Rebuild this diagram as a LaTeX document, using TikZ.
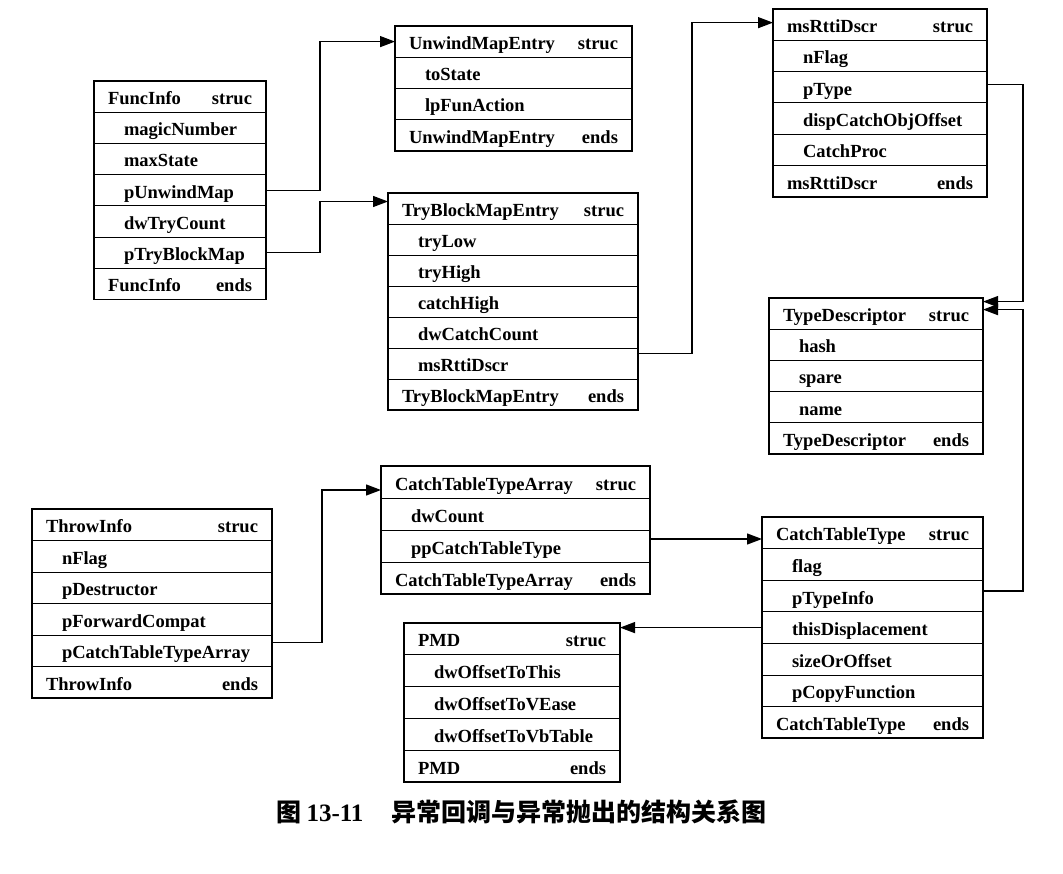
\documentclass[tikz,border=0pt]{standalone}
\usepackage{fontspec}
\setmainfont{Liberation Serif}
\newfontfamily\cjk{Noto Sans CJK SC}
\usetikzlibrary{positioning, arrows.meta}
\hyphenpenalty=10000
\newcommand{\rowstrut}{\rule[-5pt]{0pt}{26pt}}

% one struc table: id, top-left, width, row height, name, fields
\newcommand{\structbox}[6]{%
  \pgfmathsetlengthmacro{\rowtw}{#3-28pt}
  \node[srow, minimum width=#3, minimum height=#4, text width=\rowtw,
        anchor=north west] (#1-0) at (#2) {#5\hfill struc};
  \foreach \fld [count=\k] in {#6} {
    \pgfmathtruncatemacro{\prev}{\k-1}
    \node[srow, fieldrow, minimum width=#3, minimum height=#4, text width=\rowtw,
          below=0pt of #1-\prev] (#1-\k) {\fld};
    \xdef\lastrow{\k}
  }
  \node[srow, minimum width=#3, minimum height=#4, text width=\rowtw,
        below=0pt of #1-\lastrow] (#1-end) {#5\hfill ends};
  \draw[boxframe] (#1-0.north west) rectangle (#1-end.south east);
}

\begin{document}
\begin{tikzpicture}[x=1pt, y=-1pt,
    srow/.style={rectangle, draw, line width=0.9pt, outer sep=0pt, inner xsep=14pt,
                 inner ysep=1pt, align=left, execute at begin node={\rowstrut},
                 font=\fontsize{18.5}{20}\selectfont\bfseries},
    fieldrow/.style={execute at begin node={\rowstrut\hspace*{16pt}}},
    boxframe/.style={line width=1.6pt},
    link/.style={-{Triangle[length=15pt, width=11pt]}, line width=1.3pt},
    captionlbl/.style={font=\fontsize{25}{27}\selectfont, anchor=west},
  ]
    \useasboundingbox (0,0) rectangle (1063,874);

    % --- exception callback side ---
    \structbox{fi}{94,81}{172pt}{31.2pt}{FuncInfo}
      {magicNumber, maxState, pUnwindMap, dwTryCount, pTryBlockMap}
    \structbox{ume}{395,26}{237pt}{31.2pt}{UnwindMapEntry}
      {toState, lpFunAction}
    \structbox{tbme}{388,193}{250pt}{31pt}{TryBlockMapEntry}
      {tryLow, tryHigh, catchHigh, dwCatchCount, msRttiDscr}
    \structbox{msr}{773,9}{214pt}{31.3pt}{msRttiDscr}
      {nFlag, pType, dispCatchObjOffset, CatchProc}
    \structbox{td}{769,298}{214pt}{31.2pt}{TypeDescriptor}
      {hash, spare, name}

    % --- exception throw side ---
    \structbox{ti}{32,509}{240pt}{31.5pt}{ThrowInfo}
      {nFlag, pDestructor, pForwardCompat, pCatchTableTypeArray}
    \structbox{ctta}{381,466}{269pt}{32pt}{CatchTableTypeArray}
      {dwCount, ppCatchTableType}
    \structbox{ctt}{762,517}{221pt}{31.6pt}{CatchTableType}
      {flag, pTypeInfo, thisDisplacement, sizeOrOffset, pCopyFunction}
    \structbox{pmd}{404,623}{216pt}{31.8pt}{PMD}
      {dwOffsetToThis, dwOffsetToVEase, dwOffsetToVbTable}

    % --- pointers ---
    \draw[link] (fi-3.east) -- ++(54,0) |- (ume-0.west);
    \draw[link] (fi-5.east) -- ++(54,0) |- ([yshift=7pt]tbme-0.west);
    \draw[link] ([yshift=10pt]tbme-5.east) -- ++(54,0) |- ([yshift=2pt]msr-0.west);
    \draw[link] ([yshift=3pt]msr-2.east) -- ++(36,0) |- ([yshift=12pt]td-0.east);
    \draw[link] ([yshift=5pt]ctt-2.east) -- ++(40,0) |- ([yshift=4pt]td-0.east);
    \draw[link] ([yshift=8pt]ti-4.east) -- ++(50,0) |- ([yshift=-8pt]ctta-0.west);
    \coordinate (cttaout) at ([yshift=7pt]ctta-2.east);
    \draw[link] (cttaout) -- (cttaout -| ctt-0.west);
    \draw[link] (ctt-3.west) -- (ctt-3.west -| pmd-0.east);

    % --- caption ---
    \node[captionlbl] (cap) at (273,812)
      {\cjk\bfseries 图\hspace{5pt}{\rmfamily 13-11}\hspace{28pt}异常回调与异常抛出的结构关系图};
\end{tikzpicture}
\end{document}
